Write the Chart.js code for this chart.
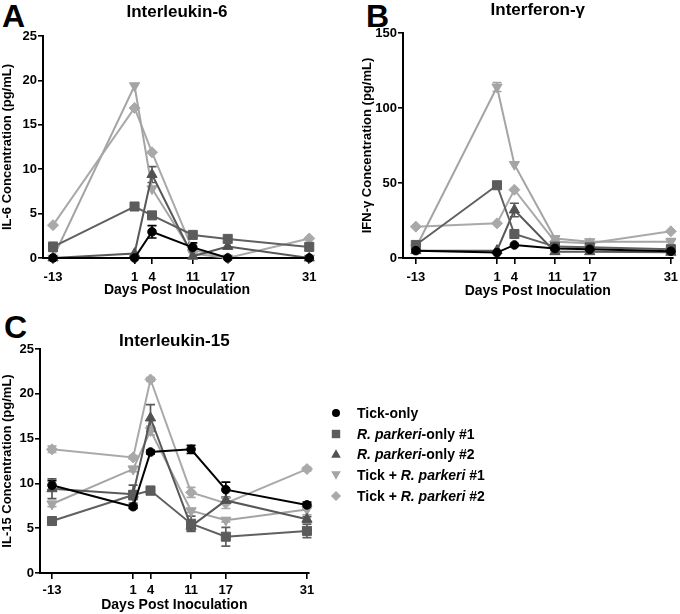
<!DOCTYPE html>
<html><head><meta charset="utf-8">
<script src="https://cdn.jsdelivr.net/npm/chart.js@4.4.1/dist/chart.umd.min.js"></script>
<style>
body{margin:0;width:680px;height:614px;position:relative;background:#fff;font-family:"Liberation Sans",Arial,sans-serif;overflow:hidden}
.pc{position:absolute}
.letter{position:absolute;font-weight:bold;font-size:32px;line-height:32px;color:#000}
#legend{position:absolute;left:329px;top:403px;font-weight:bold;font-size:14px;color:#000}
.row{height:20.6px;display:flex;align-items:center;white-space:nowrap}
.row svg{width:14px;height:14px;margin-right:14px;flex:none}
</style></head>
<body>
<div class="letter" style="left:2px;top:0px">A</div>
<div class="letter" style="left:366px;top:0px">B</div>
<div class="letter" style="left:4px;top:311px">C</div>
<div class="pc" style="left:0;top:0;width:340px;height:310px"><canvas id="cA"></canvas></div>
<div class="pc" style="left:340px;top:0;width:340px;height:310px"><canvas id="cB"></canvas></div>
<div class="pc" style="left:0;top:310px;width:340px;height:304px"><canvas id="cC"></canvas></div>
<div id="legend"></div>
<script>
// ---- data ----
const days = [-13, 1, 4, 11, 17, 31];
const xTickLabels = ['-13', '1', '4', '11', '17', '31'];
const seriesNames = ['Tick-only', 'R. parkeri-only #1', 'R. parkeri-only #2', 'Tick + R. parkeri #1', 'Tick + R. parkeri #2'];

// IL-6 (pg/mL)
const il6Tick = [0, 0, 2.95, 1.2, 0, 0];
const il6Rp1  = [1.25, 5.8, 4.8, 2.6, 2.15, 1.25];
const il6Rp2  = [0, 0.5, 9.4, 0.2, 1.3, 0];
const il6Trp1 = [0, 19.4, 7.8, 0.5, 0, 0];
const il6Trp2 = [3.7, 16.9, 11.9, 0.9, 0, 2.2];
const il6TickErr = [0, 0, 0.7, 0.5, 0, 0];
const il6Rp1Err  = [0.5, 0, 0, 0, 0, 0.4];
const il6Rp2Err  = [0, 0, 0.9, 0, 0, 0];
const il6Trp1Err = [0, 0, 0, 0, 0, 0];
const il6Trp2Err = [0, 0, 0, 0, 0, 0];

// IFN-gamma (pg/mL)
const ifnTick = [4.9, 3.6, 8.7, 6.4, 5.8, 4.5];
const ifnRp1  = [8.7, 48.5, 16, 7.6, 7.1, 5.8];
const ifnRp2  = [4.9, 5, 32, 4.2, 4.2, 3.8];
const ifnTrp1 = [6.8, 114, 62.4, 13, 10.9, 10.9];
const ifnTrp2 = [20.9, 23.1, 45.5, 10.9, 9.8, 17.8];
const ifnTickErr = [0, 0, 0, 0, 0, 0];
const ifnRp1Err  = [0, 0, 0, 0, 0, 0];
const ifnRp2Err  = [0, 0, 4.5, 0, 0, 0];
const ifnTrp1Err = [0, 3, 0, 0, 0, 2];
const ifnTrp2Err = [0, 0, 0, 0, 0, 0];

// IL-15 (pg/mL)
const il15Tick = [9.8, 7.4, 13.5, 13.8, 9.3, 7.6];
const il15Rp1  = [5.8, 8.7, 9.2, 5.5, 4.05, 4.7];
const il15Rp2  = [9.4, 8.8, 17.3, 5.2, 8.1, 6.0];
const il15Trp1 = [7.7, 11.6, 15.9, 6.95, 5.9, 7.1];
const il15Trp2 = [13.8, 12.9, 21.6, 9.0, 7.8, 11.6];
const il15TickErr = [0.5, 0.2, 0.2, 0.45, 0.85, 0.3];
const il15Rp1Err  = [0.2, 0.5, 0.45, 0.85, 1.05, 0.75];
const il15Rp2Err  = [1.1, 1.0, 1.5, 0.5, 0.3, 0.3];
const il15Trp1Err = [0.3, 0.3, 0.5, 0.2, 0.2, 0.6];
const il15Trp2Err = [0.35, 0.2, 0.2, 0.55, 0.6, 0.2];

// ---- styles ----
const FONT = '"Liberation Sans", Arial, sans-serif';
const styles = [
  {color: '#000000', line: '#000000', pointStyle: 'circle', rot: 0, r: 4.3},
  {color: '#5c5c5c', line: '#606060', pointStyle: 'rect', rot: 0, r: 6.4},
  {color: '#525252', line: '#585858', pointStyle: 'triangle', rot: 0, r: 5.9},
  {color: '#a4a4a4', line: '#a4a4a4', pointStyle: 'triangle', rot: 180, r: 5.9},
  {color: '#a9a9a9', line: '#a9a9a9', pointStyle: 'rectRot', rot: 0, r: 5.5}
];

function buildDatasets(vals, errs) {
  return vals.map((v, k) => ({
    label: seriesNames[k],
    data: days.map((d, i) => ({x: d, y: v[i]})),
    err: errs[k],
    borderColor: styles[k].line,
    backgroundColor: styles[k].color,
    pointBackgroundColor: styles[k].color,
    pointBorderColor: styles[k].color,
    pointBorderWidth: 1,
    pointStyle: styles[k].pointStyle,
    pointRotation: styles[k].rot,
    pointRadius: styles[k].r,
    borderWidth: 2,
    showLine: true,
    clip: false,
    errColor: styles[k].line
  }));
}

const errorBars = {
  id: 'errorBars',
  beforeDatasetsDraw(chart) {
    const ctx = chart.ctx, xs = chart.scales.x, ys = chart.scales.y;
    ctx.save();
    chart.data.datasets.forEach(ds => {
      ctx.strokeStyle = ds.errColor;
      ctx.lineWidth = 1.7;
      ds.data.forEach((p, i) => {
        const e = ds.err[i];
        if (!e) return;
        const x = xs.getPixelForValue(p.x);
        const y1 = ys.getPixelForValue(p.y + e);
        const y2 = ys.getPixelForValue(Math.max(p.y - e, 0));
        ctx.beginPath();
        ctx.moveTo(x, y1); ctx.lineTo(x, y2);
        ctx.moveTo(x - 4.5, y1); ctx.lineTo(x + 4.5, y1);
        ctx.moveTo(x - 4.5, y2); ctx.lineTo(x + 4.5, y2);
        ctx.stroke();
      });
    });
    ctx.restore();
  }
};

function makeChart(id, c) {
  return new Chart(document.getElementById(id), {
    type: 'scatter',
    data: {datasets: buildDatasets(c.vals, c.errs)},
    options: {
      responsive: true, maintainAspectRatio: false, animation: false,
      layout: {padding: c.pad},
      plugins: {
        legend: {display: false}, tooltip: {enabled: false},
        title: {display: true, text: c.title, fullSize: false, color: '#000',
          font: {family: FONT, size: 17, weight: 'bold', lineHeight: '20px'},
          padding: {top: 0, bottom: c.titleBottom}}
      },
      scales: {
        x: {
          type: 'linear', min: c.xmin, max: c.xmax,
          afterBuildTicks: s => { s.ticks = days.map(v => ({value: v})); },
          afterFit: s => { s.height = c.xh; s.paddingLeft = 0; s.paddingRight = 0; },
          ticks: {autoSkip: false, maxRotation: 0, minRotation: 0, color: '#000', padding: c.xtickPad,
            font: {family: FONT, size: 13, weight: 'bold'},
            callback: v => xTickLabels[days.indexOf(v)]},
          grid: {drawOnChartArea: false, drawTicks: true, tickLength: 6, color: '#000', lineWidth: 1.6},
          border: {display: true, color: '#000', width: 2},
          title: {display: true, text: 'Days Post Inoculation', color: '#000',
            font: {family: FONT, size: 14, weight: 'bold'}, padding: {top: 0, bottom: c.xtPad}}
        },
        y: {
          min: 0, max: c.ymax,
          afterFit: s => { s.width = c.yw; s.paddingTop = 0; s.paddingBottom = 0; },
          ticks: {stepSize: c.ystep, color: '#000', padding: 1,
            font: {family: FONT, size: 13, weight: 'bold'}},
          grid: {drawOnChartArea: false, drawTicks: true, tickLength: 5, color: '#000', lineWidth: 1.6},
          border: {display: true, color: '#000', width: 2},
          title: {display: true, text: c.ytitle, color: '#000',
            font: {family: FONT, size: 13, weight: 'bold'}, padding: {top: c.ytPad, bottom: 0}}
        }
      }
    },
    plugins: [errorBars]
  });
}

makeChart('cA', {
  title: 'Interleukin-6', ytitle: 'IL-6 Concentration (pg/mL)',
  vals: [il6Tick, il6Rp1, il6Rp2, il6Trp1, il6Trp2],
  errs: [il6TickErr, il6Rp1Err, il6Rp2Err, il6Trp1Err, il6Trp2Err],
  pad: {left: 0, right: 29, top: 2, bottom: 0}, titleBottom: 14,
  xmin: -14.72, xmax: 31.3, xh: 52, xtPad: 11.6, xtickPad: 6,
  ymax: 25, ystep: 5, yw: 43, ytPad: 0
});
makeChart('cB', {
  title: 'Interferon-\u03b3', ytitle: 'IFN-\u03b3 Concentration (pg/mL)',
  vals: [ifnTick, ifnRp1, ifnRp2, ifnTrp1, ifnTrp2],
  errs: [ifnTickErr, ifnRp1Err, ifnRp2Err, ifnTrp1Err, ifnTrp2Err],
  pad: {left: 0, right: 4.4, top: 0, bottom: 0}, titleBottom: 13,
  xmin: -15.22, xmax: 31.3, xh: 52, xtPad: 10.6, xtickPad: 6,
  ymax: 150, ystep: 50, yw: 63, ytPad: 20
});
makeChart('cC', {
  title: 'Interleukin-15', ytitle: 'IL-15 Concentration (pg/mL)',
  vals: [il15Tick, il15Rp1, il15Rp2, il15Trp1, il15Trp2],
  errs: [il15TickErr, il15Rp1Err, il15Rp2Err, il15Trp1Err, il15Trp2Err],
  pad: {left: 0, right: 31.3, top: 21, bottom: 0}, titleBottom: -2,
  xmin: -15.07, xmax: 31.3, xh: 41, xtPad: 0.6, xtickPad: 4,
  ymax: 25, ystep: 5, yw: 40, ytPad: 0
});

// ---- legend ----
const shapes = [
  '<circle cx="7" cy="7" r="4" fill="#000"/>',
  '<rect x="2.8" y="2.8" width="8.4" height="8.4" fill="#5c5c5c"/>',
  '<polygon points="7,2.2 11.8,10.8 2.2,10.8" fill="#525252"/>',
  '<polygon points="2.2,3.2 11.8,3.2 7,11.8" fill="#a4a4a4"/>',
  '<polygon points="7,2 12,7 7,12 2,7" fill="#a9a9a9"/>'
];
const legendHtml = [
  'Tick-only',
  '<i>R. parkeri</i>-only #1',
  '<i>R. parkeri</i>-only #2',
  'Tick + <i>R. parkeri</i> #1',
  'Tick + <i>R. parkeri</i> #2'
];
document.getElementById('legend').innerHTML = seriesNames.map((n, k) =>
  '<div class="row"><svg viewBox="0 0 14 14">' + shapes[k] + '</svg><span>' + legendHtml[k] + '</span></div>').join('');
</script>
</body></html>
